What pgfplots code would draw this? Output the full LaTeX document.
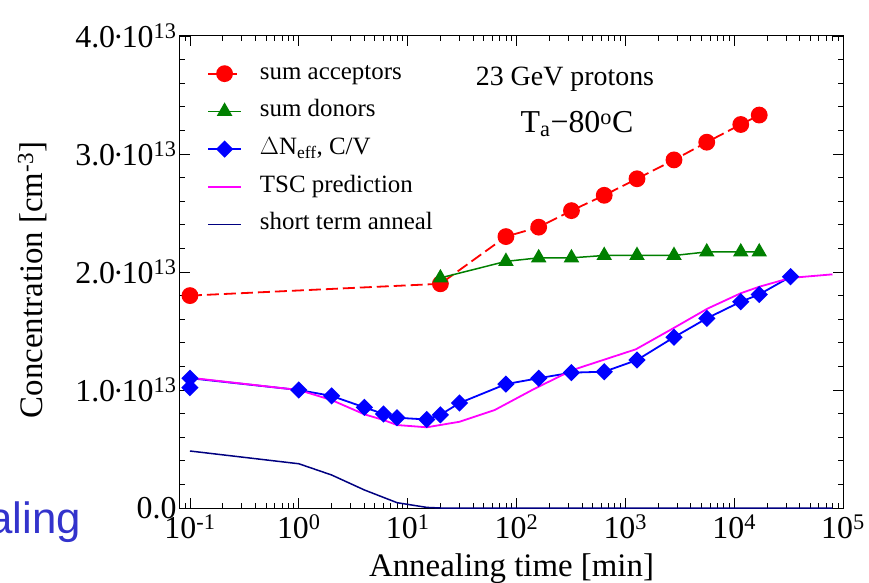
\documentclass[border=0pt]{standalone}
\usepackage{fontspec}
\setmainfont{Liberation Serif}
\newfontfamily\sansf{Liberation Sans}
\usepackage{pgfplots}
\pgfplotsset{compat=1.18}
\definecolor{cred}{RGB}{255,0,0}
\definecolor{cgreen}{RGB}{0,128,0}
\definecolor{cblue}{RGB}{0,0,255}
\definecolor{cmag}{RGB}{255,0,255}
\definecolor{cnavy}{RGB}{0,0,128}
\definecolor{slideblue}{RGB}{51,51,204}
\newcommand{\md}{\kern-2bp·\kern-2bp}
\begin{document}
\begin{tikzpicture}
\begin{axis}[
  at={(0,0)}, anchor=south west,
  scale only axis, width=663bp, height=472bp,
  xmode=log, xmin=0.081, xmax=1e5, ymin=0, ymax=4,
  xtick={0.1,1,10,100,1000,10000,100000},
  xticklabels={10\textsuperscript{-1},10\textsuperscript{0},10\textsuperscript{1},10\textsuperscript{2},10\textsuperscript{3},10\textsuperscript{4},10\textsuperscript{5}},
  minor xtick={0.09,0.2,0.3,0.4,0.5,0.6,0.7,0.8,0.9,2,3,4,5,6,7,8,9,20,30,40,50,60,70,80,90,200,300,400,500,600,700,800,900,2000,3000,4000,5000,6000,7000,8000,9000,20000,30000,40000,50000,60000,70000,80000,90000},
  ytick={0,1,2,3,4},
  yticklabels={0.0,1.0\md10\textsuperscript{13},2.0\md10\textsuperscript{13},3.0\md10\textsuperscript{13},4.0\md10\textsuperscript{13}},
  minor ytick={0.2,0.4,0.6,0.8,1.2,1.4,1.6,1.8,2.2,2.4,2.6,2.8,3.2,3.4,3.6,3.8},
  tick align=inside, major tick length=10bp, minor tick length=5bp,
  every tick/.style={black, line width=0.8bp},
  axis line style={line width=1bp, black},
  ticklabel style={font=\fontsize{32}{38}\selectfont},
  xticklabel style={yshift=-3bp},
  label style={font=\fontsize{33}{40}\selectfont},
  xlabel={Annealing time [min]},
  ylabel={Concentration [cm\textsuperscript{-3}]},
  xlabel style={at={(axis description cs:0.5,-0.146)}, anchor=base},
  ylabel style={at={(axis description cs:-0.208,0.483)}, anchor=base},
  legend style={draw=none, fill=none, inner sep=0pt, at={(axis description cs:0.0407,0.945)}, anchor=north west,
     font=\fontsize{25}{30}\selectfont, row sep=14.7bp, column sep=18bp,
     nodes={inner sep=0pt, text height=17bp, text depth=6bp}},
  legend cell align=left,
  legend image code/.code={\draw[mark repeat=2,mark phase=2,#1] plot coordinates {(0bp,0bp) (16.5bp,0bp) (33bp,0bp)};},
]
\addplot[cred, line width=1.8bp, dash pattern=on 12bp off 5bp, mark=*, mark size=7.5bp, mark options={solid, fill=cred, draw=cred}]
  coordinates {(0.1,1.80)(20,1.90)(80,2.30)(160,2.38)(320,2.52)(640,2.65)(1280,2.79)(2800,2.95)(5600,3.10)(11500,3.25)(17000,3.33)};
\addlegendentry{sum acceptors}
\addplot[cgreen, line width=1.5bp, mark=triangle*, mark size=7.5bp, mark options={fill=cgreen, draw=cgreen}]
  coordinates {(20,1.95)(80,2.09)(160,2.12)(320,2.12)(640,2.14)(1280,2.14)(2800,2.14)(5600,2.17)(11500,2.17)(17000,2.17)};
\addlegendentry{sum donors}
\addplot[cblue, line width=1.8bp, mark=square*, mark size=5.2bp, mark options={rotate=45, fill=cblue, draw=cblue}]
  coordinates {(0.1,1.02)(0.1,1.10)(1,1.00)(2,0.95)(4,0.853)(6,0.797)(8,0.765)(15,0.75)(20,0.79)(30,0.89)(80,1.05)(160,1.10)(320,1.147)(640,1.155)(1280,1.254)(2800,1.447)(5600,1.607)(11500,1.748)(17000,1.81)(33000,1.96)};
\addlegendentry{$\Delta$N\textsubscript{eff}, C/V}
\addplot[cmag, line width=1.8bp, no marks]
  coordinates {(0.1,1.104)(1,1.0)(2,0.915)(4,0.794)(6,0.746)(8,0.703)(15,0.684)(30,0.731)(46,0.788)(63,0.83)(146,1.01)(329,1.17)(1250,1.345)(2720,1.52)(5700,1.69)(11500,1.82)(17000,1.875)(33000,1.95)(80000,1.98)};
\addlegendentry{TSC prediction}
\addplot[cnavy, line width=1.5bp, no marks]
  coordinates {(0.1,0.483)(1,0.375)(2,0.28)(4,0.153)(8,0.045)(15,0.005)(20,0)(80000,0)};
\addlegendentry{short term anneal}
\end{axis}
\node[anchor=base, inner sep=0pt, font=\fontsize{28}{32}\selectfont] at (385bp,422bp) {23 GeV protons};
\node[anchor=base, inner sep=0pt, font=\fontsize{32}{38}\selectfont] at (397bp,375bp) {T\textsubscript{a}−80\textsuperscript{o}C};
\node[anchor=base east, inner sep=0pt, text=slideblue, font=\sansf\fontsize{44}{50}\selectfont] at (-99bp,-25bp) {aling};
\pgfresetboundingbox
\useasboundingbox (-180bp,-75bp) rectangle (689bp,508bp);
\end{tikzpicture}
\end{document}
